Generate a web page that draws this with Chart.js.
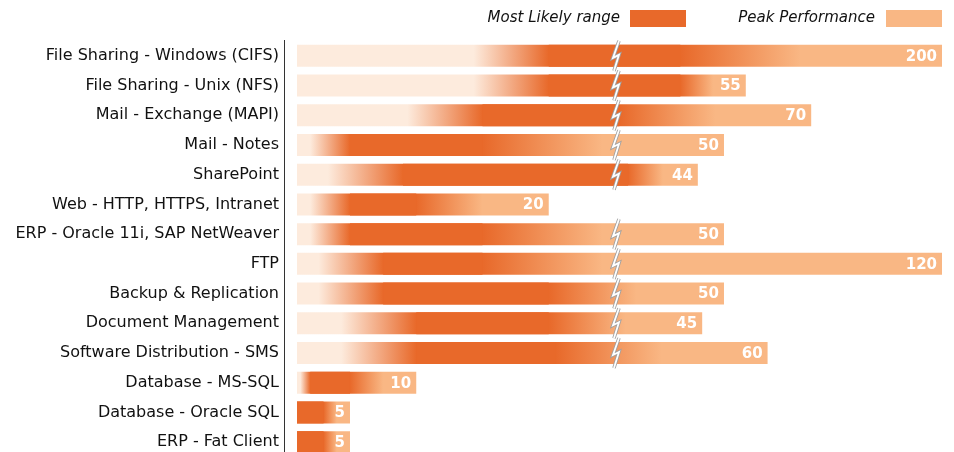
<!DOCTYPE html>
<html>
<head>
<meta charset="utf-8">
<script src="https://cdn.jsdelivr.net/npm/chart.js@4.4.1/dist/chart.umd.min.js"></script>
<style>
  html, body { margin: 0; padding: 0; background: #fff; overflow: hidden; }
  canvas { display: block; }
</style>
</head>
<body>
<canvas id="chart" width="954" height="457"></canvas>
<script>
// ── Data ──
const categories = [
  'File Sharing - Windows (CIFS)', 'File Sharing - Unix (NFS)', 'Mail - Exchange (MAPI)',
  'Mail - Notes', 'SharePoint', 'Web - HTTP, HTTPS, Intranet', 'ERP - Oracle 11i, SAP NetWeaver',
  'FTP', 'Backup & Replication', 'Document Management', 'Software Distribution - SMS',
  'Database - MS-SQL', 'Database - Oracle SQL', 'ERP - Fat Client'
];
const peakPerformance = [200, 55, 70, 50, 44, 20, 50, 120, 50, 45, 60, 10, 5, 5];
const likelyLow  = [20, 20, 15, 5, 9, 5, 5, 7.5, 7.5, 10, 10, 2, 1, 1];
const likelyHigh = [40, 40, 26, 15, 28, 10, 15, 15, 20, 20, 20.5, 5, 3, 3];

const AXIS_MIN = 1, AXIS_MAX = 100;
const BREAK_AT = 25;      // axis is broken here
const BREAK_POS = 0.493;  // share of the width before the break

const DARK = '#E8692A', LIGHT = '#F9B784', PALE = '#FDEBDD';

// ── Broken linear scale ──
class BrokenScale extends Chart.LinearScale {
  getPixelForValue(v) {
    const lo = this.min, hi = this.max;
    v = Math.min(Math.max(v, lo), hi);
    const d = v <= BREAK_AT
      ? (v - lo) / (BREAK_AT - lo) * BREAK_POS
      : BREAK_POS + (v - BREAK_AT) / (hi - BREAK_AT) * (1 - BREAK_POS);
    return this.getPixelForDecimal(d);
  }
  getValueForPixel(p) {
    const d = this.getDecimalForPixel(p);
    return d <= BREAK_POS
      ? this.min + d / BREAK_POS * (BREAK_AT - this.min)
      : BREAK_AT + (d - BREAK_POS) / (1 - BREAK_POS) * (this.max - BREAK_AT);
  }
}
BrokenScale.id = 'broken';
BrokenScale.defaults = Chart.LinearScale.defaults;
Chart.register(BrokenScale);

// pale -> dark -> light gradient along each whole bar
function barGradient(ctx) {
  if (ctx.type !== 'data') return LIGHT;
  const chart = ctx.chart, xs = chart.scales.x;
  if (!xs || !chart.chartArea) return LIGHT;
  const i = ctx.dataIndex;
  const x0 = xs.getPixelForValue(AXIS_MIN);
  const x1 = xs.getPixelForValue(peakPerformance[i]);
  const xl = xs.getPixelForValue(likelyLow[i]);
  const xh = xs.getPixelForValue(likelyHigh[i]);
  const w = x1 - x0;
  const lead = xl - x0;
  const ramp = Math.min(75, lead * 0.75);
  const fade = Math.min(120, (x1 - xh) * 0.5);
  const f = px => Math.min(1, Math.max(0, (px - x0) / w));
  const g = chart.ctx.createLinearGradient(x0, 0, x1, 0);
  g.addColorStop(0, lead > 0 ? PALE : DARK);
  g.addColorStop(f(xl - ramp), lead > 0 ? PALE : DARK);
  g.addColorStop(f(xl), DARK);
  g.addColorStop(f(xh), DARK);
  g.addColorStop(f(xh + fade), LIGHT);
  g.addColorStop(1, LIGHT);
  return g;
}

// ── Plugins: legend, axis line, break marks, value labels ──
const decorPlugin = {
  id: 'decor',
  afterDraw(chart) {
    const { ctx, chartArea } = chart;
    const xs = chart.scales.x, ys = chart.scales.y;
    ctx.save();

    // axis line
    ctx.strokeStyle = '#333';
    ctx.lineWidth = 1;
    ctx.beginPath();
    ctx.moveTo(284.5, 40);
    ctx.lineTo(284.5, chart.height);
    ctx.stroke();

    // legend
    ctx.font = 'italic 15px "DejaVu Sans"';
    ctx.textAlign = 'right';
    ctx.textBaseline = 'middle';
    ctx.fillStyle = '#111';
    ctx.fillText('Most Likely range', 620, 18);
    ctx.fillText('Peak Performance', 875, 18);
    ctx.fillStyle = DARK;
    ctx.fillRect(630, 10, 56, 17);
    ctx.fillStyle = LIGHT;
    ctx.fillRect(886, 10, 56, 17);

    const half = 11;
    // break marks
    const bx = xs.getPixelForValue(BREAK_AT) + 1;
    peakPerformance.forEach((v, i) => {
      if (v <= BREAK_AT) return;
      const cy = ys.getPixelForValue(i);
      const t = cy - half - 4, b = cy + half + 4;
      const pts = [[bx + 3, t], [bx - 3, cy + 2], [bx + 3, cy - 1], [bx - 2, b]];
      [['#a0a0a0', 3.5], ['#fff', 1.8]].forEach(([c, lw]) => {
        ctx.strokeStyle = c;
        ctx.lineWidth = lw;
        ctx.lineJoin = 'miter';
        ctx.beginPath();
        pts.forEach(([px, py], k) => k ? ctx.lineTo(px, py) : ctx.moveTo(px, py));
        ctx.stroke();
      });
    });

    // value labels
    ctx.font = 'bold 15px "DejaVu Sans"';
    ctx.fillStyle = '#fff';
    ctx.textAlign = 'right';
    peakPerformance.forEach((v, i) => {
      const x = Math.min(xs.getPixelForValue(v), chartArea.right) - 5;
      ctx.fillText(String(v), x, ys.getPixelForValue(i) + 1);
    });
    ctx.restore();
  }
};

new Chart(document.getElementById('chart'), {
  type: 'bar',
  data: {
    labels: categories,
    datasets: [
      {
        label: 'Peak Performance',
        data: peakPerformance,
        backgroundColor: barGradient,
        borderWidth: 0,
        grouped: false,
        order: 2
      },
      {
        label: 'Most Likely range',
        data: likelyLow.map((lo, i) => [lo, likelyHigh[i]]),
        backgroundColor: DARK,
        borderWidth: 0,
        grouped: false,
        order: 1
      }
    ]
  },
  options: {
    indexAxis: 'y',
    responsive: false,
    animation: false,
    barPercentage: 0.74,
    categoryPercentage: 1,
    layout: { padding: { top: 41, right: 12, bottom: 0, left: 0 } },
    scales: {
      x: { type: 'broken', min: AXIS_MIN, max: AXIS_MAX, display: false },
      y: {
        grid: { display: false, drawTicks: false },
        border: { display: false },
        ticks: { color: '#111', padding: 18, font: { family: 'DejaVu Sans', size: 16 } },
        afterFit(scale) {
          scale.width = 297;
          scale.paddingTop = 0;
          scale.paddingBottom = 0;
        }
      }
    },
    plugins: { legend: { display: false }, tooltip: { enabled: false } }
  },
  plugins: [decorPlugin]
});
</script>
</body>
</html>
